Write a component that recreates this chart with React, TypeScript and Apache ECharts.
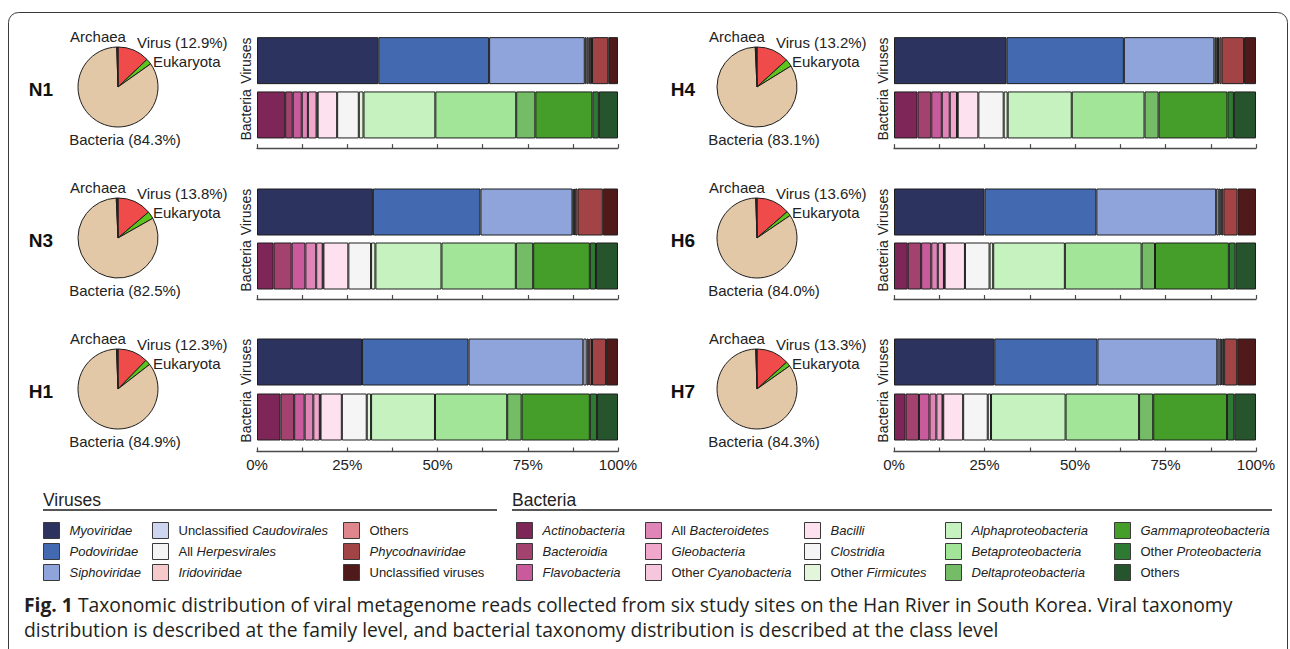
import React, { useEffect, useRef } from 'react';
import * as echarts from 'echarts';

// ---------- DATA ----------
const samples = ['N1', 'N3', 'H1', 'H4', 'H6', 'H7'];

const kingdoms = ['Virus', 'Eukaryota', 'Bacteria', 'Archaea'];
const kingdomN1 = [12.9, 2.3, 84.3, 0.5];
const kingdomN3 = [13.8, 3.0, 82.5, 0.7];
const kingdomH1 = [12.3, 2.2, 84.9, 0.6];
const kingdomH4 = [13.2, 3.0, 83.1, 0.7];
const kingdomH6 = [13.6, 1.9, 84.0, 0.5];
const kingdomH7 = [13.3, 1.9, 84.3, 0.5];

const virusFamilies = [
  'Myoviridae', 'Podoviridae', 'Siphoviridae', 'Unclassified Caudovirales',
  'All Herpesvirales', 'Iridoviridae', 'Others', 'Phycodnaviridae', 'Unclassified viruses',
];
const virusItalic = [
  'Myoviridae', 'Podoviridae', 'Siphoviridae', 'Caudovirales',
  'Herpesvirales', 'Iridoviridae', '', 'Phycodnaviridae', '',
];
const virusN1 = [33.6, 30.7, 26.5, 0.5, 0.5, 0.4, 0.6, 4.5, 2.7];
const virusN3 = [32.1, 29.8, 25.5, 0.3, 0.3, 0.2, 0.6, 7.0, 4.2];
const virusH1 = [29.1, 29.5, 31.8, 0.9, 0.5, 0.3, 0.7, 3.9, 3.3];
const virusH4 = [31.1, 32.4, 25.0, 0.5, 0.5, 0.4, 0.6, 6.2, 3.3];
const virusH6 = [25.0, 30.9, 33.1, 0.7, 0.5, 0.3, 0.5, 3.9, 5.1];
const virusH7 = [27.7, 28.5, 33.1, 0.6, 0.5, 0.3, 0.5, 3.6, 5.2];

const bacteriaClasses = [
  'Actinobacteria', 'Bacteroidia', 'Flavobacteria', 'All Bacteroidetes', 'Gleobacteria',
  'Other Cyanobacteria', 'Bacilli', 'Clostridia', 'Other Firmicutes', 'Alphaproteobacteria',
  'Betaproteobacteria', 'Deltaproteobacteria', 'Gammaproteobacteria', 'Other Proteobacteria', 'Others',
];
const bacteriaItalic = [
  'Actinobacteria', 'Bacteroidia', 'Flavobacteria', 'Bacteroidetes', 'Gleobacteria',
  'Cyanobacteria', 'Bacilli', 'Clostridia', 'Firmicutes', 'Alphaproteobacteria',
  'Betaproteobacteria', 'Deltaproteobacteria', 'Gammaproteobacteria', 'Proteobacteria', '',
];
const bacteriaN1 = [7.8, 2.1, 2.5, 1.7, 2.4, 0.3, 5.4, 6.0, 1.3, 19.9, 22.4, 5.3, 15.8, 1.8, 5.3];
const bacteriaN3 = [4.6, 5.0, 3.8, 3.0, 1.8, 0.2, 6.9, 6.3, 1.2, 18.3, 20.6, 4.8, 15.7, 1.7, 6.1];
const bacteriaH1 = [6.5, 3.8, 2.9, 2.4, 1.8, 0.2, 5.9, 6.9, 1.2, 17.7, 20.0, 4.0, 18.9, 2.0, 5.8];
const bacteriaH4 = [6.5, 3.8, 2.9, 2.2, 2.0, 0.2, 5.7, 7.0, 1.1, 17.7, 20.1, 3.9, 19.0, 1.8, 6.1];
const bacteriaH6 = [3.8, 3.7, 2.8, 1.8, 1.7, 0.2, 5.6, 6.8, 1.0, 19.8, 21.2, 3.7, 20.4, 1.8, 5.7];
const bacteriaH7 = [3.2, 3.7, 2.9, 1.9, 1.7, 0.2, 5.5, 6.8, 0.9, 20.6, 20.3, 3.9, 20.4, 2.0, 6.0];

const barCategories = ['Bacteria', 'Viruses'];
const xTicks = [0, 25, 50, 75, 100];

const captionBold = 'Fig. 1';
const captionLine1 = ' Taxonomic distribution of viral metagenome reads collected from six study sites on the Han River in South Korea. Viral taxonomy';
const captionLine2 = 'distribution is described at the family level, and bacterial taxonomy distribution is described at the class level';

// ---------- STYLE ----------
const kingdomColors = ['#ef4b4b', '#5cc41c', '#e3c8a7', '#2a2a2a'];
const virusColors = ['#2c335e', '#436ab1', '#8ea4da', '#cdd5f0', '#f4f4f4', '#f6c9cb', '#df868c', '#a24446', '#4f1a19'];
const bacteriaColors = [
  '#7e2657', '#a3426f', '#c95b9c', '#df85b8', '#f0a7cb', '#f6c6dd', '#fde1ef', '#f5f5f5',
  '#e3f5da', '#c6f2c0', '#a3e598', '#75bc66', '#449e29', '#2f7a33', '#26542d',
];

const FONT = "'Liberation Sans', Arial, Helvetica, sans-serif";
const CAPTION_FONT = "'Open Sans', sans-serif";

const kingdomData = [kingdomN1, kingdomN3, kingdomH1, kingdomH4, kingdomH6, kingdomH7];
const virusData = [virusN1, virusN3, virusH1, virusH4, virusH6, virusH7];
const bacteriaData = [bacteriaN1, bacteriaN3, bacteriaH1, bacteriaH4, bacteriaH6, bacteriaH7];

const pieCx = [118, 757];
const rowCy = [87, 238, 389];
const labelX = [41, 683];
const gridLeft = [257, 894];
const gridWidth = [361, 362];
const gridTop = [33.5, 185, 334.5];
const gridHeight = [108.6, 108, 110];
const axisOffset = [6, 6, 7];

const pieLabelOffsets = [
  { dx: 19, dy: -45, align: 'left' },
  { dx: 35, dy: -26, align: 'left' },
  { dx: 7, dy: 52, align: 'center' },
  { dx: -20, dy: -51, align: 'center' },
];

function richLabel(label: string, italic: string) {
  if (!italic) return `{n|${label}}`;
  const idx = label.indexOf(italic);
  const before = label.slice(0, idx);
  const after = label.slice(idx + italic.length);
  return (before ? `{n|${before}}` : '') + `{i|${italic}}` + (after ? `{n|${after}}` : '');
}

const vKey = (n: string) => 'v:' + n;
const bKey = (n: string) => 'b:' + n;

export default function App() {
  const ref = useRef<HTMLDivElement>(null);
  useEffect(() => {
    if (!ref.current) return;
    const chart = echarts.init(ref.current, undefined, { renderer: 'svg' });

    const displayMap: Record<string, string> = {};
    virusFamilies.forEach((n, i) => { displayMap[vKey(n)] = richLabel(n, virusItalic[i]); });
    bacteriaClasses.forEach((n, i) => { displayMap[bKey(n)] = richLabel(n, bacteriaItalic[i]); });

    const grids: any[] = [];
    const xAxes: any[] = [];
    const yAxes: any[] = [];
    const series: any[] = [];

    samples.forEach((s, i) => {
      const col = i < 3 ? 0 : 1;
      const row = i % 3;
      grids.push({ left: gridLeft[col], top: gridTop[row], width: gridWidth[col], height: gridHeight[row] });
      xAxes.push({
        gridIndex: i, type: 'value', min: 0, max: 100, interval: 12.5, offset: axisOffset[row],
        axisLine: { show: true, lineStyle: { color: '#4a4a4a', width: 1.3 } },
        axisTick: { show: true, inside: true, length: 4, lineStyle: { color: '#4a4a4a', width: 1.2 } },
        splitLine: { show: false },
        axisLabel: {
          show: row === 2, fontSize: 15, color: '#222', margin: 5, fontFamily: FONT,
          formatter: (v: number) => (xTicks.indexOf(v) >= 0 ? v + '%' : ''),
        },
      });
      yAxes.push({
        gridIndex: i, type: 'category', data: barCategories,
        axisLine: { show: false }, axisTick: { show: false },
        axisLabel: { interval: 0, rotate: 90, fontSize: 14, margin: 4, color: '#222', fontFamily: FONT },
      });
      virusFamilies.forEach((n, j) => {
        series.push({
          type: 'bar', name: vKey(n), xAxisIndex: i, yAxisIndex: i, stack: 'p' + i, barWidth: 47,
          data: [null, virusData[i][j]],
          itemStyle: { color: virusColors[j], borderColor: '#1e1e1e', borderWidth: 1 },
          silent: true,
        });
      });
      bacteriaClasses.forEach((n, j) => {
        series.push({
          type: 'bar', name: bKey(n), xAxisIndex: i, yAxisIndex: i, stack: 'p' + i, barWidth: 47,
          data: [bacteriaData[i][j], null],
          itemStyle: { color: bacteriaColors[j], borderColor: '#1e1e1e', borderWidth: 1 },
          silent: true,
        });
      });
      const cx = pieCx[col];
      const cy = rowCy[row];
      series.push({
        type: 'pie', name: 'kingdom-' + s, radius: 40, center: [cx, cy], startAngle: 90, clockwise: true,
        silent: true, avoidLabelOverlap: false,
        data: kingdoms.map((k, j) => ({ name: k, value: kingdomData[i][j], itemStyle: { color: kingdomColors[j] } })),
        itemStyle: { borderColor: '#1e1e1e', borderWidth: 1 },
        label: {
          show: true, fontSize: 15, color: '#222', fontFamily: FONT,
          formatter: (p: any) => (p.dataIndex === 0 || p.dataIndex === 2 ? `${p.name} (${Number(p.value).toFixed(1)}%)` : p.name),
        },
        labelLine: { show: false },
        labelLayout: (p: any) => {
          const o = pieLabelOffsets[p.dataIndex];
          return { x: cx + o.dx, y: cy + o.dy, align: o.align, verticalAlign: 'middle' };
        },
      });
    });

    const rich = {
      n: { fontSize: 13, color: '#222', fontFamily: FONT, fontStyle: 'normal' },
      i: { fontSize: 13, color: '#222', fontFamily: FONT, fontStyle: 'italic' },
    };
    const legendBase = (left: number, data: string[]) => ({
      orient: 'vertical', left, top: 522, padding: 0, itemWidth: 16, itemHeight: 16, itemGap: 4,
      icon: 'rect', selectedMode: false, data,
      itemStyle: { borderColor: '#3a3a3a', borderWidth: 1 },
      textStyle: { fontSize: 13, color: '#222', fontFamily: FONT, padding: [0, 0, 0, 5], rich },
      formatter: (name: string) => displayMap[name] || name,
    });
    const vk = virusFamilies.map(vKey);
    const bk = bacteriaClasses.map(bKey);
    const legends = [
      legendBase(43, vk.slice(0, 3)),
      legendBase(152, vk.slice(3, 6)),
      legendBase(343, vk.slice(6, 9)),
      legendBase(516, bk.slice(0, 3)),
      legendBase(645, bk.slice(3, 6)),
      legendBase(804, bk.slice(6, 9)),
      legendBase(945, bk.slice(9, 12)),
      legendBase(1114, bk.slice(12, 15)),
    ];

    const graphics: any[] = [
      {
        type: 'rect', shape: { x: 8.5, y: 12.5, width: 1279, height: 700, r: 10 },
        style: { fill: 'none', stroke: '#3a3a3a', lineWidth: 1 }, silent: true, z: -10,
      },
      { type: 'text', x: 43, y: 500, style: { text: 'Viruses', fontSize: 17.5, fill: '#222', fontFamily: FONT, textVerticalAlign: 'middle' } },
      { type: 'line', shape: { x1: 43, y1: 510, x2: 497, y2: 510 }, style: { stroke: '#555', lineWidth: 2 } },
      { type: 'text', x: 512, y: 500, style: { text: 'Bacteria', fontSize: 17.5, fill: '#222', fontFamily: FONT, textVerticalAlign: 'middle' } },
      { type: 'line', shape: { x1: 512, y1: 510, x2: 1272, y2: 510 }, style: { stroke: '#555', lineWidth: 2 } },
      {
        type: 'text', x: 24, y: 604,
        style: {
          text: `{b|${captionBold}}{t|${captionLine1}}`, fill: '#231f20', textVerticalAlign: 'middle',
          rich: {
            b: { fontSize: 19.3, fontWeight: 'bold', fontFamily: CAPTION_FONT, fill: '#231f20' },
            t: { fontSize: 19.3, fontFamily: CAPTION_FONT, fill: '#231f20' },
          },
        },
      },
      {
        type: 'text', x: 24, y: 629,
        style: { text: captionLine2, fontSize: 19.3, fontFamily: CAPTION_FONT, fill: '#231f20', textVerticalAlign: 'middle' },
      },
    ];
    samples.forEach((s, i) => {
      const col = i < 3 ? 0 : 1;
      const row = i % 3;
      graphics.push({
        type: 'text', x: labelX[col], y: rowCy[row] + 2,
        style: { text: s, fontSize: 19, fontWeight: 'bold', fill: '#111', fontFamily: FONT, textAlign: 'center', textVerticalAlign: 'middle' },
      });
    });

    chart.setOption({
      animation: false,
      backgroundColor: '#ffffff',
      grid: grids,
      xAxis: xAxes,
      yAxis: yAxes,
      legend: legends,
      series,
      graphic: graphics,
    });
    return () => chart.dispose();
  }, []);
  return <div ref={ref} style={{ position: 'absolute', left: 0, top: 0, width: 1290, height: 649 }} />;
}
